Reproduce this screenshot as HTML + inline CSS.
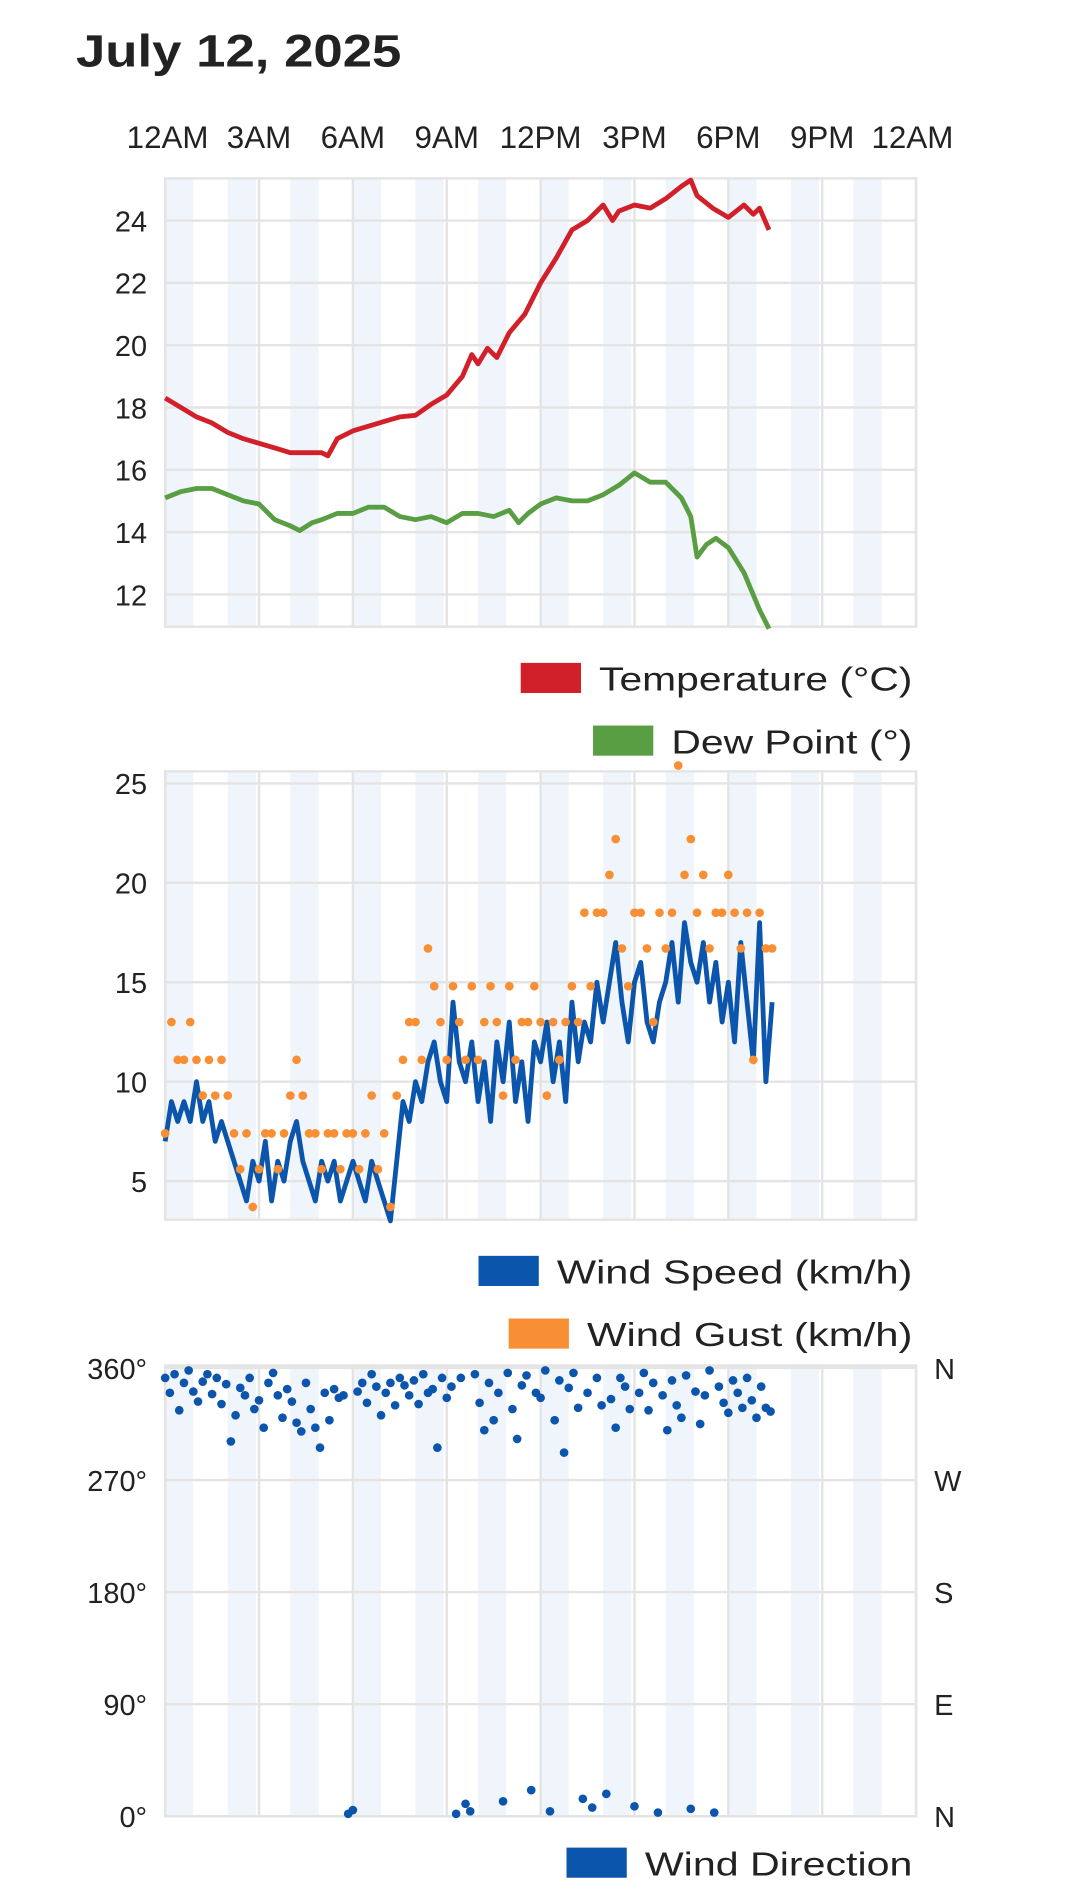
<!DOCTYPE html>
<html><head><meta charset="utf-8"><style>
html,body{margin:0;padding:0;background:#fff}
svg{display:block}
text{font-family:"Liberation Sans",sans-serif;fill:#222}
</style></head><body>
<svg id="s" width="1080" height="1891" viewBox="0 0 896 1569" xmlns="http://www.w3.org/2000/svg">
<text x="63" y="55" font-size="38" font-weight="bold" textLength="270" lengthAdjust="spacingAndGlyphs">July 12, 2025</text>
</svg>
<script>
const timeLabels=["12AM","3AM","6AM","9AM","12PM","3PM","6PM","9PM","12AM"];
const tempTicks=[12,14,16,18,20,22,24];
const windTicks=[5,10,15,20,25];
const dirTicks=[0,90,180,270,360];
const dirLetters=["N","E","S","W","N"];
const tempHours=[0,0.5,1,1.5,2,2.5,3,3.5,4,4.5,5,5.2,5.5,6,6.5,7,7.5,8,8.5,9,9.5,9.8,10,10.3,10.6,11,11.5,12,12.5,13,13.5,14,14.3,14.5,15,15.5,16,16.5,16.8,17,17.5,18,18.5,18.8,19,19.3];
const tempVals=[18.3,18.0,17.7,17.5,17.2,17.0,16.85,16.7,16.55,16.55,16.55,16.45,17.0,17.25,17.4,17.55,17.7,17.75,18.1,18.4,19.0,19.7,19.4,19.9,19.6,20.4,21.0,22.0,22.8,23.7,24.0,24.5,24.0,24.3,24.5,24.4,24.7,25.1,25.3,24.8,24.4,24.1,24.5,24.2,24.4,23.7];
const dewHours=[0,0.5,1,1.5,2,2.5,3,3.5,4,4.3,4.7,5,5.5,6,6.5,7,7.5,8,8.5,9,9.5,10,10.5,11,11.3,11.6,12,12.5,13,13.5,14,14.5,15,15.5,16,16.5,16.8,17,17.3,17.6,18,18.5,19,19.3];
const dewVals=[15.1,15.3,15.4,15.4,15.2,15.0,14.9,14.4,14.2,14.05,14.3,14.4,14.6,14.6,14.8,14.8,14.5,14.4,14.5,14.3,14.6,14.6,14.5,14.7,14.3,14.6,14.9,15.1,15.0,15.0,15.2,15.5,15.9,15.6,15.6,15.1,14.5,13.2,13.6,13.8,13.5,12.7,11.5,10.9];
const windSpeed=[7,9,8,9,8,10,8,9,7,8, 7,6,5,4,6,5,7,4,6,5, 7,8,6,5,4,6,5,6,4,5, 6,5,4,6,5,4,3,6,9,8, 10,9,11,12,10,9,14,11,10,12, 9,11,8,12,10,13,9,11,8,12, 11,13,10,12,9,14,11,13,12,15, 13,15,17,14,12,15,16,13,12,14, 15,17,14,18,16,15,17,14,16,13, 15,12,17,14,11,18,10,14];
const windGust=[7.4,13,11.1,11.1,13,11.1,9.3,11.1,9.3,11.1, 9.3,7.4,5.6,7.4,3.7,5.6,7.4,7.4,5.6,7.4, 9.3,11.1,9.3,7.4,7.4,5.6,7.4,7.4,5.6,7.4, 7.4,5.6,7.4,9.3,5.6,7.4,3.7,9.3,11.1,13, 13,11.1,16.7,14.8,13,11.1,14.8,13,11.1,14.8, 11.1,13,14.8,13,9.3,14.8,11.1,13,13,14.8, 13,9.3,13,11.1,13,14.8,13,18.5,14.8,18.5, 18.5,20.4,22.2,16.7,14.8,18.5,18.5,16.7,13,18.5, 16.7,18.5,25.9,20.4,22.2,18.5,20.4,16.7,18.5,18.5, 20.4,18.5,16.7,18.5,11.1,18.5,16.7,16.7];
const windDir=[352,340,355,326,348,358,341,333,349,355, 339,352,331,347,301,322,344,338,352,327, 334,312,348,356,338,320,343,333,316,309, 348,327,312,296,340,318,343,336,338,2,5,341,348,332,355,345,322,340,348,330, 352,346,338,350,331,355,340,343,296,352, 336,345,2,352,10,4,355,332,310,348, 318,340,12,356,327,303,346,354,21,340, 336,358,4,318,350,292,344,356,328,14, 340,7,352,330,18,335,312,352,345,327, 8,340,356,326,348,3,338,310,350,330, 320,354,6,341,315,338,358,3,345,332, 324,350,340,328,352,334,320,345,328,325];
const NS="http://www.w3.org/2000/svg";
const svg=document.getElementById('s');
const X0=137,X1=760,HW=(X1-X0)/24;
const xH=h=>X0+h*HW;
function el(t,a,p){const e=document.createElementNS(NS,t);for(const k in a)e.setAttribute(k,a[k]);(p||svg).appendChild(e);return e;}
function frame(top,bot,name){
  const g=el('g',{});
  
  
  for(let h=0;h<24;h+=2){const r=el('rect',{x:xH(h),y:top,width:HW*0.9,height:bot-top,fill:'#eff5fa'},g);
    
    }
  for(let i=0;i<=8;i++){const l=el('line',{x1:xH(i*3),x2:xH(i*3),y1:top,y2:bot,stroke:'#e4e4e4','stroke-width':2},g);
    
    }
  const b=el('rect',{x:X0,y:top,width:X1-X0,height:bot-top,fill:'none',stroke:'#e4e4e4','stroke-width':2},g);
  
  
  return g;
}
function hgrid(y,g){const l=el('line',{x1:X0,x2:X1,y1:y,y2:y,stroke:'#e4e4e4','stroke-width':2},g);
  
  }
function label(x,y,txt,anchor,size,name){const t=el('text',{x:x,y:y,'text-anchor':anchor,'font-size':size});t.textContent=txt;
  
  return t;}
function legend(y,color,txt,w,name){const g=el('g',{});
  
  
  el('rect',{x:757-w-65,y:y,width:50,height:25,fill:color},g);
  const t=el('text',{x:757-w,y:y+23,'font-size':28,textLength:w,lengthAdjust:'spacingAndGlyphs'},g);t.textContent=txt;}
timeLabels.forEach((t,i)=>{const l=label(xH(i*3)+(i==0?2:i==8?-3:0),123,t,'middle',26,'time-label');});
// chart 1
const T0=148,T1=520;const yT=v=>183+(24-v)*25.85;
const g1=frame(T0,T1,'temperature-chart');
tempTicks.forEach(v=>{hgrid(yT(v),g1);label(122,yT(v)+9,String(v),'end',24,'temp-tick');});
function line(hs,vs,yf,color,name){const d=hs.map((h,i)=>(i?'L':'M')+xH(h).toFixed(1)+' '+yf(vs[i]).toFixed(1)).join(' ');
  const p=el('path',{d:d,fill:'none',stroke:color,'stroke-width':4,'stroke-linejoin':'round'});
  
  }
line(tempHours,tempVals,yT,'#d1202a','temperature-line');
line(dewHours,dewVals,yT,'#5a9e44','dew-point-line');
legend(550,'#d1202a','Temperature (°C)',260,'legend-temperature');
legend(602,'#5a9e44','Dew Point (°)',200,'legend-dew-point');
// chart 2
const W0=640,W1=1012;const yW=v=>980-(v-5)*16.5;
const g2=frame(W0,W1,'wind-chart');
windTicks.forEach(v=>{hgrid(yW(v),g2);label(122,yW(v)+9,String(v),'end',24,'wind-tick');});
const wh=windSpeed.map((_,i)=>i*0.2);
line(wh,windSpeed,yW,'#0b55ad','wind-speed-line');
windGust.forEach((v,i)=>{const c=el('circle',{cx:xH(i*0.2),cy:yW(v),r:3.6,fill:'#f98f34'});
  
  });
legend(1042,'#0b55ad','Wind Speed (km/h)',295,'legend-wind-speed');
legend(1094,'#f98f34','Wind Gust (km/h)',270,'legend-wind-gust');
// chart 3
const D0=1133,D1=1507;const yD=d=>1507-d*(372/360);
const g3=frame(D0,D1,'wind-direction-chart');
dirTicks.forEach((v,i)=>{hgrid(yD(v),g3);label(122,yD(v)+9,v+'°','end',24,'direction-tick');label(775,yD(v)+9,dirLetters[i],'start',24,'compass-label');});
windDir.forEach((v,i)=>{const c=el('circle',{cx:xH(i*0.15),cy:yD(v),r:3.6,fill:'#0b55ad'});
  
  });
legend(1533,'#0b55ad','Wind Direction',222,'legend-wind-direction');
label(118,1590,'1','end',30,'next-chart-tick');
</script>
</body></html>
